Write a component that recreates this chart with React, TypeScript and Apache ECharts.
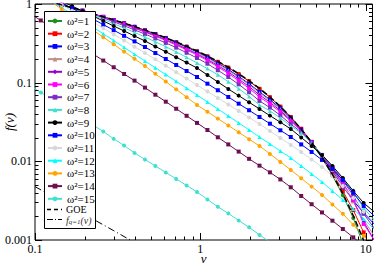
import React, { useEffect, useRef } from 'react';
import * as echarts from 'echarts';

// velocity grid (log-spaced sampling used by all ω² data sets)
const vGrid = [0.0938, 0.1084, 0.1253, 0.1449, 0.1675, 0.1936, 0.2239, 0.2588, 0.2992, 0.3459, 0.3999, 0.4624, 0.5346, 0.618, 0.7145, 0.826, 0.955, 1.104, 1.276, 1.476, 1.706, 1.972, 2.28, 2.636, 3.048, 3.524, 4.074, 4.71, 5.445, 6.295, 7.278, 8.414, 9.727, 11.25];

const w1 = [1.22, 1.14, 1.05, 0.97, 0.89, 0.82, 0.75, 0.685, 0.625, 0.568, 0.515, 0.463, 0.416, 0.371, 0.328, 0.289, 0.252, 0.217, 0.185, 0.156, 0.129, 0.105, 0.0838, 0.0652, 0.0494, 0.0362, 0.0256, 0.0172, 0.011, 0.0066, 0.0037, 0.0019, 0.00085, 0.00035];
const w2 = [1.23, 1.14, 1.05, 0.97, 0.89, 0.82, 0.75, 0.686, 0.625, 0.568, 0.514, 0.463, 0.415, 0.37, 0.327, 0.287, 0.25, 0.216, 0.184, 0.155, 0.128, 0.104, 0.0835, 0.0652, 0.0496, 0.0366, 0.026, 0.0177, 0.0116, 0.0072, 0.0042, 0.0024, 0.00125, 0.00064];
const w3 = [1.24, 1.148, 1.059, 0.975, 0.897, 0.823, 0.754, 0.687, 0.624, 0.566, 0.511, 0.459, 0.411, 0.366, 0.322, 0.282, 0.246, 0.21, 0.177, 0.147, 0.12, 0.0969, 0.0763, 0.0609, 0.0472, 0.0354, 0.0254, 0.0176, 0.01153, 0.00757, 0.00477, 0.00318, 0.00221, 0.0016];
const w4 = [1.24, 1.15, 1.06, 0.975, 0.897, 0.823, 0.754, 0.685, 0.62, 0.561, 0.505, 0.452, 0.404, 0.358, 0.315, 0.275, 0.239, 0.204, 0.172, 0.143, 0.117, 0.094, 0.0741, 0.0591, 0.0459, 0.0344, 0.02505, 0.0175, 0.0117, 0.00768, 0.00492, 0.00309, 0.0018, 0.00113];
const w5 = [1.24, 1.15, 1.06, 0.975, 0.897, 0.823, 0.754, 0.683, 0.617, 0.556, 0.499, 0.446, 0.397, 0.351, 0.308, 0.268, 0.232, 0.197, 0.165, 0.137, 0.111, 0.0891, 0.0699, 0.0563, 0.0441, 0.0334, 0.0247, 0.0174, 0.01188, 0.00791, 0.00521, 0.00318, 0.0017, 0.001];
const w6 = [1.24, 1.15, 1.06, 0.975, 0.897, 0.823, 0.754, 0.681, 0.614, 0.552, 0.493, 0.439, 0.39, 0.344, 0.301, 0.261, 0.225, 0.191, 0.159, 0.131, 0.106, 0.0845, 0.0659, 0.0536, 0.0424, 0.0325, 0.02433, 0.0173, 0.01205, 0.00814, 0.00537, 0.00323, 0.0016, 0.001];
const w7 = [1.24, 1.15, 1.056, 0.969, 0.889, 0.813, 0.743, 0.666, 0.594, 0.529, 0.469, 0.415, 0.365, 0.32, 0.279, 0.24, 0.206, 0.174, 0.144, 0.118, 0.0952, 0.0755, 0.0586, 0.0482, 0.0384, 0.0297, 0.02363, 0.0172, 0.01205, 0.00838, 0.00569, 0.00368, 0.00215, 0.00142];
const w8 = [1.24, 1.14, 1.043, 0.954, 0.871, 0.793, 0.722, 0.639, 0.563, 0.496, 0.435, 0.38, 0.331, 0.287, 0.246, 0.21, 0.178, 0.151, 0.126, 0.103, 0.0839, 0.0669, 0.0521, 0.0437, 0.0356, 0.0281, 0.02295, 0.0171, 0.01223, 0.00863, 0.00603, 0.00402, 0.00255, 0.0018];
const w9 = [1.693, 1.463, 1.264, 1.092, 0.943, 0.815, 0.704, 0.608, 0.525, 0.454, 0.392, 0.339, 0.289, 0.247, 0.211, 0.18, 0.1537, 0.1253, 0.1021, 0.0832, 0.0684, 0.0564, 0.0463, 0.0381, 0.0314, 0.0258, 0.02012, 0.01569, 0.01206, 0.00874, 0.00615, 0.00421, 0.00296, 0.00228];
const w10 = [1.644, 1.409, 1.202, 1.03, 0.882, 0.753, 0.645, 0.547, 0.465, 0.394, 0.335, 0.284, 0.238, 0.2, 0.1679, 0.1408, 0.1181, 0.0971, 0.0801, 0.0658, 0.0541, 0.0446, 0.0366, 0.0301, 0.0248, 0.0204, 0.0164, 0.01316, 0.01042, 0.00801, 0.0058, 0.00397, 0.00271, 0.00202];
const w11 = [1.597, 1.352, 1.147, 0.971, 0.822, 0.698, 0.591, 0.4925, 0.411, 0.343, 0.286, 0.238, 0.198, 0.164, 0.136, 0.1127, 0.0935, 0.0773, 0.0639, 0.0528, 0.0437, 0.0361, 0.0299, 0.0243, 0.0198, 0.01616, 0.01316, 0.01057, 0.00849, 0.00653, 0.00487, 0.00343, 0.00228, 0.0017];
const w12 = [1.597, 1.32, 1.092, 0.903, 0.746, 0.617, 0.51, 0.418, 0.343, 0.281, 0.23, 0.1887, 0.1546, 0.1267, 0.1039, 0.0851, 0.0698, 0.0569, 0.0463, 0.0377, 0.0308, 0.0251, 0.0204, 0.01664, 0.01355, 0.01104, 0.00874, 0.00692, 0.00547, 0.00421, 0.00323, 0.00248, 0.00185, 0.00138];
const w13 = [1.597, 1.301, 1.06, 0.864, 0.704, 0.5735, 0.467, 0.379, 0.307, 0.248, 0.201, 0.163, 0.1297, 0.1033, 0.0822, 0.0654, 0.0521, 0.0427, 0.0349, 0.0286, 0.0234, 0.01914, 0.01569, 0.01242, 0.00983, 0.00778, 0.0061, 0.00477, 0.00374, 0.00283, 0.00215, 0.00156, 0.00113, 0.000818];
const w14 = [0.752, 0.618, 0.508, 0.418, 0.344, 0.282, 0.232, 0.191, 0.157, 0.129, 0.1062, 0.0865, 0.0703, 0.0573, 0.0466, 0.0379, 0.0308, 0.025, 0.0202, 0.0164, 0.0133, 0.01076, 0.00881, 0.00724, 0.00589, 0.00468, 0.00363, 0.00285, 0.00224, 0.00176, 0.00138, 0.00108, 0.000851, 0.000661];
const w15 = [0.0908, 0.075, 0.0621, 0.0513, 0.0425, 0.0351, 0.029, 0.024, 0.0193, 0.0159, 0.0128, 0.01057, 0.00875, 0.00723, 0.00597, 0.00494, 0.00408, 0.00328, 0.00264, 0.00218, 0.00177, 0.00145, 0.00116, 0.000946, 0.000776];

const goe = [1.243, 1.148, 1.059, 0.975, 0.897, 0.823, 0.754, 0.689, 0.628, 0.571, 0.517, 0.466, 0.418, 0.373, 0.33, 0.29, 0.253, 0.219, 0.187, 0.157, 0.13, 0.106, 0.0845, 0.0658, 0.0498, 0.0365, 0.0258, 0.0174, 0.0112, 0.00683, 0.00389, 0.00205, 0.000988, 0.000429];

const fq1V = [0.1, 0.15, 0.2, 0.3, 0.4, 0.5];
const fq1 = [0.00477, 0.00296, 0.00211, 0.00131, 0.00093, 0.000716];

const omegaNames = ['ω²=1', 'ω²=2', 'ω²=3', 'ω²=4', 'ω²=5', 'ω²=6', 'ω²=7', 'ω²=8', 'ω²=9', 'ω²=10', 'ω²=11', 'ω²=12', 'ω²=13', 'ω²=14', 'ω²=15'];
const goeName = 'GOE';
const fqName = 'f_{q=1}(v)';

const xTickLabels = ['0.1', '1', '10'];
const yTickLabels = ['0.001', '0.01', '0.1', '1'];
const xMajor = [0.1, 1, 10];
const xMinor = [0.2, 0.3, 0.4, 0.5, 0.6, 0.7, 0.8, 0.9, 2, 3, 4, 5, 6, 7, 8, 9];
const yMajor = [0.001, 0.01, 0.1, 1];
const yMinor = [0.002, 0.003, 0.004, 0.005, 0.006, 0.007, 0.008, 0.009, 0.02, 0.03, 0.04, 0.05, 0.06, 0.07, 0.08, 0.09, 0.2, 0.3, 0.4, 0.5, 0.6, 0.7, 0.8, 0.9];

const omegaData = [w1, w2, w3, w4, w5, w6, w7, w8, w9, w10, w11, w12, w13, w14, w15];
const colors = ['#1f8f1f', '#ff0000', '#0000ff', '#bc8f8f', '#9400d3', '#ff00ff', '#7b2fbe', '#40e0d0', '#000000', '#0000ff', '#d8d8d8', '#00ffff', '#ffa500', '#6b0f50', '#40e0d0'];
const symbols = ['circle', 'rect', 'rect', 'triangle', 'diamond', 'rect', 'rect', 'triangle', 'circle', 'rect', 'circle', 'triangle', 'circle', 'rect', 'circle'];

const FONT = "'Liberation Serif', 'DejaVu Serif', serif";

function labelFor(v: number, labels: string[], first: number) {
  const e = Math.log10(v);
  const r = Math.round(e);
  if (Math.abs(e - r) > 1e-6) return '';
  return labels[r - first] ?? '';
}

export default function App() {
  const ref = useRef<HTMLDivElement>(null);
  useEffect(() => {
    const chart = echarts.init(ref.current!, null, { renderer: 'svg' });

    const tickData: number[][] = [];
    xMajor.forEach((v) => tickData.push([v, 0.01, 1]));
    xMinor.forEach((v) => tickData.push([v, 0.01, 0]));
    yMajor.forEach((v) => tickData.push([1, v, 3]));
    yMinor.forEach((v) => tickData.push([1, v, 2]));

    const series: any[] = omegaData.map((ys, i) => ({
      type: 'line',
      name: omegaNames[i],
      data: ys.map((y, j) => [vGrid[j], y]),
      symbol: symbols[i],
      symbolSize: 4,
      showSymbol: true,
      lineStyle: { color: colors[i], width: 1 },
      itemStyle: { color: colors[i] },
      emphasis: { disabled: true },
      z: 2,
    }));
    series.push({
      type: 'line',
      name: goeName,
      data: goe.map((y, j) => [vGrid[j], y]),
      symbol: 'none',
      lineStyle: { color: '#000', width: 1.5, type: [6, 3] },
      itemStyle: { color: '#000' },
      emphasis: { disabled: true },
      z: 3,
    });
    series.push({
      type: 'line',
      name: fqName,
      data: fq1.map((y, j) => [fq1V[j], y]),
      symbol: 'none',
      lineStyle: { color: '#000', width: 1, type: [7, 3, 1, 3] },
      itemStyle: { color: '#000' },
      emphasis: { disabled: true },
      z: 3,
    });
    series.push({
      type: 'custom',
      silent: true,
      clip: false,
      z: 5,
      data: tickData,
      renderItem: (params: any, api: any) => {
        const cs = params.coordSys;
        const kind = api.value(2);
        const p = api.coord([api.value(0), api.value(1)]);
        const len = kind % 2 === 1 ? 7 : 3.5;
        const st = { stroke: '#000', lineWidth: 1 };
        if (kind < 2) {
          const x = Math.round(p[0]) + 0.5;
          const yb = cs.y + cs.height;
          return {
            type: 'group',
            children: [
              { type: 'line', shape: { x1: x, y1: yb, x2: x, y2: yb - len }, style: st },
              { type: 'line', shape: { x1: x, y1: cs.y, x2: x, y2: cs.y + len }, style: st },
            ],
          };
        }
        const y = Math.round(p[1]) + 0.5;
        const xr = cs.x + cs.width;
        return {
          type: 'group',
          children: [
            { type: 'line', shape: { x1: cs.x, y1: y, x2: cs.x + len, y2: y }, style: st },
            { type: 'line', shape: { x1: xr, y1: y, x2: xr - len, y2: y }, style: st },
          ],
        };
      },
    });

    const option: any = {
      animation: false,
      backgroundColor: '#fff',
      grid: {
        left: 35, right: 1.5, top: 4, bottom: 24,
        outerBoundsMode: 'none',
        containLabel: false,
        show: true, borderColor: '#000', borderWidth: 1, backgroundColor: 'transparent',
      },
      xAxis: {
        type: 'log',
        logBase: 10,
        min: 0.1,
        max: 11,
        name: 'v',
        nameLocation: 'middle',
        nameGap: 13.5,
        nameMoveOverlap: false,
        nameTextStyle: { fontFamily: FONT, fontStyle: 'italic', fontSize: 13, color: '#000', lineHeight: 10 },
        axisLine: { show: false },
        axisTick: { show: false },
        splitLine: { show: false },
        minorTick: { show: false },
        axisLabel: {
          margin: 4,
          fontFamily: FONT,
          fontSize: 12,
          lineHeight: 9,
          color: '#000',
          hideOverlap: false,
          showMinLabel: true,
          formatter: (v: number) => labelFor(v, xTickLabels, -1),
        },
      },
      yAxis: {
        type: 'log',
        logBase: 10,
        min: 0.001,
        max: 1,
        name: 'f(v)',
        nameLocation: 'middle',
        nameRotate: 90,
        nameGap: 19,
        nameMoveOverlap: false,
        nameTextStyle: { fontFamily: FONT, fontStyle: 'italic', fontSize: 13, color: '#000' },
        axisLine: { show: false },
        axisTick: { show: false },
        splitLine: { show: false },
        axisLabel: {
          margin: 3,
          fontFamily: FONT,
          fontSize: 12,
          lineHeight: 9,
          color: '#000',
          hideOverlap: false,
          showMinLabel: true,
          showMaxLabel: true,
          formatter: (v: number) => labelFor(v, yTickLabels, -3),
        },
      },
      legend: [
        {
          data: omegaNames,
          orient: 'vertical',
          left: 47,
          top: 15,
          padding: 0,
          itemWidth: 14,
          itemHeight: 6,
          itemGap: 0.7,
          selectedMode: false,
          z: 20,
          textStyle: { fontFamily: FONT, fontSize: 11, lineHeight: 12, color: '#000' },
        },
      ],
      graphic: [
        {
          type: 'rect',
          z: 10,
          shape: { x: 44.5, y: 11.5, width: 51, height: 217 },
          style: { fill: '#fff', stroke: '#000', lineWidth: 1 },
        },
        {
          type: 'line',
          z: 21,
          shape: { x1: 47, y1: 209.5, x2: 62, y2: 209.5 },
          style: { stroke: '#000', lineWidth: 1.5, lineDash: [4, 3] },
        },
        {
          type: 'text',
          z: 21,
          x: 66,
          y: 209,
          style: { text: goeName, fontFamily: FONT, fontSize: 10, lineHeight: 10, fill: '#000', verticalAlign: 'middle' },
        },
        {
          type: 'line',
          z: 21,
          shape: { x1: 47, y1: 219.5, x2: 62, y2: 219.5 },
          style: { stroke: '#000', lineWidth: 1, lineDash: [6, 2, 1, 2] },
        },
        {
          type: 'text',
          z: 21,
          x: 66,
          y: 220.5,
          style: {
            text: '{i|f}{s|q=1}{i|(v)}',
            verticalAlign: 'middle',
            rich: {
              i: { fontFamily: FONT, fontStyle: 'italic', fontSize: 10, fill: '#333', lineHeight: 10, verticalAlign: 'middle' },
              s: { fontFamily: FONT, fontStyle: 'italic', fontSize: 7, fill: '#333', lineHeight: 10, verticalAlign: 'bottom' },
            },
          },
        },
      ],
      series,
    };
    chart.setOption(option);
    return () => chart.dispose();
  }, []);
  return <div ref={ref} style={{ position: 'fixed', left: 0, top: 0, width: 374, height: 264, background: '#fff' }} />;
}
